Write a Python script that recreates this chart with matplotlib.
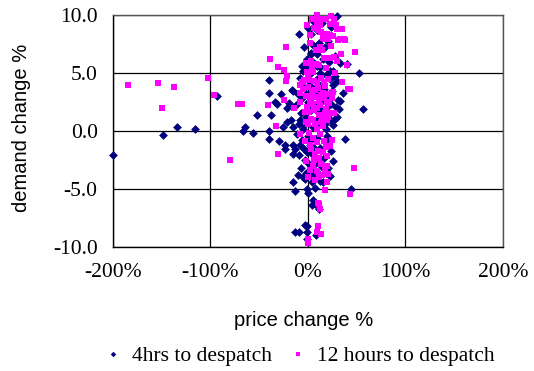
import matplotlib
matplotlib.use("Agg")
import matplotlib.pyplot as plt
from matplotlib.lines import Line2D

# price change (%) vs demand change (%) for two forecast horizons
x_4hrs = [
    -199.7, -148.7, -134.4, -116.0, -93.0,
    -66.3, -64.3, -56.4, -52.0, -39.7, -39.7, -39.7, -39.7, -38.0, -33.5,
    -29.4, -27.4, -25.6, -23.3, -23.3, -21.5, -19.8, -16.4, -15.0, -15.7,
    -15.0, -13.3, -15.0, -15.0, -13.0, -21.5, -17.0, -9.2, -8.2, -8.9,
    -18.5, -32.0,
    52.6, 56.7, 44.5, 38.0, 36.2, 40.3, 29.7,
    -13.0, -9.0, -3.0, -0.7, -0.7, -0.7, 8.2, 3.8, 5.5, 7.5, 11.6,
    3.0, 5.5, 14.0, 21.0, 11.0, 5.5, 8.2, 17.8, 9.0, 24.0,
    3.0, 8.9, 28.0, -0.7, 21.5, -6.5, 2.7, -5.0, -3.0, -0.5, 6.5, 9.6,
    12.3, 22.6, 26.0, 27.7, 15.0, 33.0,
    2.0, 2.0, 9.5, 13.0, 22.6, 26.0, 29.4, -8.0, -3.0, 5.0, 11.0, 16.0,
    19.0, 31.0, 32.8, -6.0, 0.0, 7.0, 14.0, 24.0, 29.0, 32.0,
    -7.0, -2.0, 3.0, 9.0, 15.0, 20.8, 22.6, 30.0, -4.0, 5.0, 12.0, 18.0, 26.0,
    -11.0, -6.0, -4.0, -9.0, -3.0, -7.0, -2.0, -5.5, -3.0, 0.0, 2.0, 4.0,
    1.0, 6.0, 3.8, 7.2, 9.0, 12.0, 10.0, 14.0, 12.3, 15.0, 19.5, 22.0,
    24.0, 26.0, 21.0, 23.0, -1.0,
    -2.0, 1.0, 4.0, 8.0, 10.0, 13.0, 17.0, 20.0, -5.0, -1.0, 3.0, 6.0,
    8.0, 11.0, -8.0, 16.0, 18.0, -4.0, 0.0, 7.0, 16.0, 12.0, 18.0, 25.0,
    28.0, -10.0, -12.0, -10.0, 4.0, 0.0,
]
y_4hrs = [
    -2.08, -0.35, 0.35, 0.17, 2.97,
    -0.03, 0.37, -0.17, 1.41, 0.0, -0.69, 4.36, 3.29, 1.41, 2.45,
    -0.87, 3.15, 0.37, -1.18, -1.56, 2.0, 2.4, 3.5, 3.45, 0.37,
    -1.2, -1.56, -2.0, -4.45, -5.2, 0.8, 0.9, 0.6, 0.9, 8.34,
    2.2, 2.3,
    5.0, 1.9, -5.0, -0.69, 3.29, 5.74, 9.93,
    -8.7, -8.7, -8.1, -8.2, -8.77, -9.35, -9.0, -6.4, -6.0, -6.3, -6.75,
    8.34, 9.5, 9.35, 7.8, 7.6, 7.4, 7.3, 7.2, 8.7, 9.0,
    6.6, 6.6, 6.47, 6.23, 5.95, 5.6, 6.7, 5.2, 5.65, 5.4, 5.9, 5.6,
    5.5, 5.2, 5.2, 4.7, 6.2, 5.9,
    4.9, 4.2, 4.5, 4.0, 4.5, 4.0, 4.3, 4.6, 3.8, 3.6, 3.3, 3.6,
    3.0, 2.7, 2.55, 2.8, 2.5, 2.2, 2.6, 2.3, 2.05, 1.9,
    1.5, 1.2, 1.8, 1.0, 1.5, 1.24, 0.9, 1.24, 0.5, 0.3, 0.6, 0.2, 0.5,
    -0.3, -0.8, -1.6, -2.1, -2.5, -3.2, -3.6, -4.0, -4.15, -0.4, -1.2, -2.0,
    -2.9, -3.5, -4.45, -4.9, -0.6, -1.5, -2.4, -3.1, -4.3, -4.45, -0.4, -1.0,
    -1.7, -2.6, -3.2, -3.9, -5.0,
    3.2, 4.0, 2.9, 3.9, 1.6, 2.0, 0.6, 2.1, 0.2, -1.8, -0.8, -1.5,
    -2.8, -3.7, -1.2, -2.3, -3.6, 7.2, 8.9, 9.8, 8.3, 5.0, 4.8, 3.4,
    1.0, 3.2, 2.2, -3.8, -3.9, -5.4,
]

x_12hrs = [
    -184.6, -153.8, -137.4, -102.6, -149.7, -96.1, -80.0, -71.5, -67.4,
    -41.0, -38.7, -22.6, -30.8, -24.6, -21.5, -22.6, -24.6, -14.4, -30.8,
    -32.8, 47.2, 43.0, 48.2, 42.7, 41.4, 34.5, -1.4,
    9.6, 23.3, 26.7, 4.0, 9.0, 15.7, 9.0, 12.0, 22.6, 28.7, 10.6, 19.0,
    23.0, 26.0, 17.5, 20.5, 30.8, 34.0, 38.0, 32.8, 37.2, 2.0, 12.3, 14.0,
    34.9, 30.0, 15.0, 6.0,
    16.4, 22.6, 26.7, 33.8, -2.0, 3.0, 8.0, 11.6, 29.4, 39.7, 5.0, -1.4,
    18.0, 0.0,
    -8.0, -6.5, -8.0, -8.0, 26.0, 26.7,
    -5.0, -2.0, 0.0, 2.0, 4.0, 6.0, 8.0, 10.0, 12.0, 14.0, 16.0, 18.0, 20.0,
    3.0, -3.0, 7.0, 11.0, 15.0, 19.0, 1.0, 9.0, 13.0, 5.0, -1.0, 17.0, 22.0,
    24.0, 0.5, 9.5, 6.0, 13.0, 21.0, -4.0,
    24.6, 22.6, -8.0, -3.0, 1.0, 5.0, 9.0, 12.0, 16.0, 3.0, 7.0, 11.0, 15.0,
    19.0, 5.0, 9.0, 13.0, 17.0, 21.0, -2.0, 0.0, 7.0, 19.0, 17.4, 11.0, 2.0,
    11.6, 12.3, 9.9, 10.6, 8.9, 13.0, 0.3, 0.0,
    1.0, 3.0, 5.0, 7.0, 9.0, 11.0, 13.0, 15.0, 17.0, 19.0, 21.0, -2.0,
    2.0, 6.0, 10.0, 14.0, 18.0, 4.0, 8.0, 13.0, 18.0, 24.0, 28.0, 2.0,
    20.0, 16.0, 25.0,
]
y_12hrs = [
    3.92, 4.1, 3.75, 4.6, 2.0, 3.06, -2.5, 2.34, 2.34,
    2.2, 6.17, 7.2, 5.5, 5.28, 4.7, 4.27, 2.68, 2.0, -1.96,
    0.46, -3.2, -5.45, 6.8, 3.6, 3.6, 4.2, 9.12,
    10.0, 9.93, 9.7, 9.65, 9.6, 9.65, 9.3, 9.1, 9.2, 9.1, 8.69, 8.4,
    8.3, 8.2, 7.9, 7.9, 7.85, 7.9, 7.85, 7.9, 7.9, 7.6, 7.2, 6.95,
    8.83, 8.8, 8.0, 8.9,
    6.3, 6.25, 6.4, 6.6, 5.9, 6.0, 5.8, 5.65, 6.03, 5.65, 5.1, 5.05,
    5.4, 4.7,
    4.0, 4.2, 2.5, 3.3, 3.35, 1.53,
    3.6, 3.0, 3.8, 2.6, 3.4, 1.8, 2.9, 3.7, 2.2, 1.2, 2.8, 1.9, 3.2,
    1.0, 1.6, 0.6, 1.4, 0.4, 0.9, 4.4, 4.1, 3.1, 2.3, 2.1, 3.9, 2.4,
    1.5, 0.6, 0.2, 4.3, 4.6, 4.5, 4.4,
    -0.78, -1.27, -0.3, -0.9, -0.2, -0.6, -1.0, -0.3, -0.9, -1.6, -2.0, -2.3, -1.8,
    -2.2, -3.0, -3.5, -2.9, -3.3, -3.7, -2.6, -4.0, -4.2, -4.45, -5.1, -4.0, -3.4,
    -6.3, -6.75, -6.2, -8.25, -8.7, -8.9, -9.3, -9.7,
    1.6, 3.0, 0.9, 3.5, 2.0, 2.6, 0.8, 3.3, 1.5, 2.5, 1.2, 0.8,
    -1.2, -2.5, -1.7, -3.8, -1.4, 5.6, 7.0, 8.5, 9.7, 7.3, 5.0, 8.3,
    -3.0, 4.2, 2.8,
]

x_ticks = [-200, -100, 0, 100, 200]
y_ticks = [-10, -5, 0, 5, 10]
series_labels = ["4hrs to despatch", "12 hours to despatch"]

NAVY = "#000080"
MAGENTA = "#FF00FF"
SERIF = "Liberation Serif"
SANS = "Liberation Sans"

fig = plt.figure(figsize=(5.34, 3.71), dpi=100)
ax = fig.add_axes([0.2116, 0.335, 0.7303, 0.6245])

ax.scatter(x_4hrs, y_4hrs, marker="D", s=20, color=NAVY, linewidths=0,
           zorder=3, clip_on=False)
ax.scatter(x_12hrs, y_12hrs, marker="s", s=13, color=MAGENTA, linewidths=0,
           zorder=4, clip_on=False)

ax.set_xlim(-200, 200)
ax.set_ylim(-10, 10)
ax.set_xticks(x_ticks)
ax.set_xticklabels([f"{v}%" for v in x_ticks], family=SERIF, fontsize=15.5)
ax.set_yticks(y_ticks)
ax.set_yticklabels([f"{v:.1f}" for v in y_ticks], family=SERIF, fontsize=15.5)
ax.tick_params(axis="x", length=0, pad=12)
ax.tick_params(axis="y", length=0, pad=11)

ax.grid(True, color="black", linewidth=0.9)
ax.set_axisbelow(True)
for side in ("left", "bottom"):
    ax.spines[side].set_color("black")
    ax.spines[side].set_linewidth(1.0)
for side in ("top", "right"):
    ax.spines[side].set_color("#555555")
    ax.spines[side].set_linewidth(1.0)

fig.text(0.569, 0.137, "price change %", ha="center", va="center",
         family=SANS, fontsize=14.5)
fig.text(0.041, 0.655, "demand change %", ha="center", va="center",
         rotation=90, family=SANS, fontsize=14.5)

handles = [
    Line2D([], [], marker="D", linestyle="none", markersize=2.8,
           markerfacecolor=NAVY, markeredgewidth=0),
    Line2D([], [], marker="s", linestyle="none", markersize=2.6,
           markerfacecolor=MAGENTA, markeredgewidth=0),
]
fig.legend(handles, series_labels, loc="center", bbox_to_anchor=(0.563, 0.04),
           ncol=2, frameon=False, handlelength=0.6, handletextpad=0.6,
           columnspacing=0.9, prop={"family": SERIF, "size": 15.5})

fig.savefig("out.png", dpi=100)
